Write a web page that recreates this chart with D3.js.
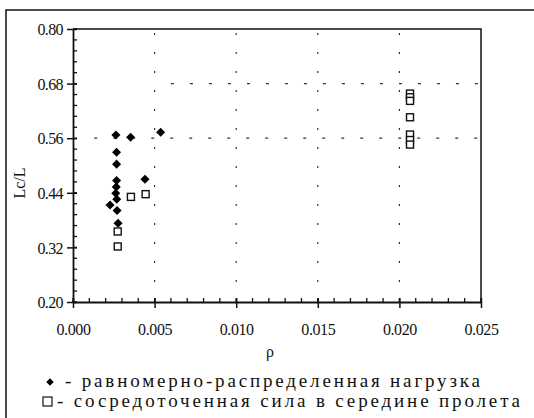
<!DOCTYPE html>
<html>
<head>
<meta charset="utf-8">
<script src="https://cdn.jsdelivr.net/npm/d3@7"></script>
<style>
  body { margin: 0; background: #fff; }
  svg { display: block; }
</style>
</head>
<body>
<svg id="chart" width="534" height="418"></svg>
<script>
// uniform load (filled diamonds)
var diamondX = [0.00263, 0.00353, 0.00537, 0.00267, 0.00267, 0.00441, 0.00267, 0.00265, 0.00262, 0.00268, 0.00227, 0.00270, 0.00276];
var diamondY = [0.567, 0.562, 0.573, 0.529, 0.503, 0.470, 0.467, 0.453, 0.439, 0.426, 0.413, 0.401, 0.373];

// point load at midspan (open squares)
var squareX = [0.00355, 0.00445, 0.00274, 0.00274, 0.02065, 0.02065, 0.02065, 0.02065, 0.02065, 0.02065, 0.02065];
var squareY = [0.431, 0.437, 0.355, 0.322, 0.658, 0.650, 0.642, 0.606, 0.568, 0.556, 0.546];

var xTicks = [0.000, 0.005, 0.010, 0.015, 0.020, 0.025];
var yTicks = [0.20, 0.32, 0.44, 0.56, 0.68, 0.80];
var hGrid = [0.56, 0.68];
var legendLabels = ["- равномерно-распределенная нагрузка", "- сосредоточенная сила в середине пролета"];

var serif = "'Liberation Serif', 'Times New Roman', serif";

var svg = d3.select("#chart");

// outer frame
svg.append("rect")
   .attr("x", 6).attr("y", 10)
   .attr("width", 560).attr("height", 430)
   .attr("fill", "none").attr("stroke", "#111").attr("stroke-width", 1.5);

var plotLeft = 73, plotRight = 481, plotTop = 29, plotBottom = 302;

var x = d3.scaleLinear().domain([0, 0.025]).range([plotLeft, plotRight]);
var y = d3.scaleLinear().domain([0.20, 0.80]).range([plotBottom, plotTop]);

// grid (dotted, sparse like the scan)
svg.append("g").selectAll("line")
   .data(xTicks.slice(1, 5))
   .join("line")
   .attr("x1", d => x(d)).attr("x2", d => x(d))
   .attr("y1", plotTop + 4).attr("y2", plotBottom)
   .attr("stroke", "#333").attr("stroke-width", 1.2)
   .attr("stroke-dasharray", "2,17");

svg.append("g").selectAll("line")
   .data(hGrid)
   .join("line")
   .attr("x1", d => d == 0.68 ? x(0.006) : x(0.0013)).attr("x2", plotRight)
   .attr("y1", d => y(d)).attr("y2", d => y(d))
   .attr("stroke", "#333").attr("stroke-width", 1.2)
   .attr("stroke-dasharray", "3,16");

// plot frame (top and right)
svg.append("path")
   .attr("d", "M" + plotLeft + "," + plotTop + "H" + plotRight + "V" + plotBottom)
   .attr("fill", "none").attr("stroke", "#111").attr("stroke-width", 1.5);

// minor ticks (inside)
var xMinor = d3.range(0, 0.0251, 0.001);
var yMinor = d3.range(0.20, 0.801, 0.024);

svg.append("g").selectAll("line")
   .data(xMinor)
   .join("line")
   .attr("x1", d => x(d)).attr("x2", d => x(d))
   .attr("y1", plotBottom).attr("y2", plotBottom - 4)
   .attr("stroke", "#111").attr("stroke-width", 1.3);

svg.append("g").selectAll("line")
   .data(yMinor)
   .join("line")
   .attr("x1", plotLeft).attr("x2", plotLeft + 4)
   .attr("y1", d => y(d)).attr("y2", d => y(d))
   .attr("stroke", "#111").attr("stroke-width", 1.3);

// axes with crossing major ticks
var xAxis = svg.append("g")
   .attr("transform", "translate(0," + plotBottom + ")")
   .call(d3.axisBottom(x).tickValues(xTicks).tickSizeInner(6).tickSizeOuter(0).tickFormat(d3.format(".3f")));
xAxis.attr("font-family", serif).attr("font-size", 16);
xAxis.select(".domain").attr("stroke", "#111").attr("stroke-width", 1.8);
xAxis.selectAll(".tick line").attr("y1", -4).attr("y2", 6).attr("stroke", "#111").attr("stroke-width", 1.5);
xAxis.selectAll(".tick text")
   .attr("y", 0).attr("dy", "33px")
   .attr("letter-spacing", "-0.4")
   .attr("fill", "#111");

var yAxis = svg.append("g")
   .attr("transform", "translate(" + plotLeft + ",0)")
   .call(d3.axisLeft(y).tickValues(yTicks).tickSizeInner(6).tickSizeOuter(0).tickFormat(d3.format(".2f")));
yAxis.attr("font-family", serif).attr("font-size", 16);
yAxis.select(".domain").attr("stroke", "#111").attr("stroke-width", 1.8);
yAxis.selectAll(".tick line").attr("x1", -6).attr("x2", 4).attr("stroke", "#111").attr("stroke-width", 1.5);
yAxis.selectAll(".tick text")
   .attr("x", -10).attr("dy", "0.36em")
   .attr("letter-spacing", "-0.6")
   .attr("fill", "#111");

// axis titles
svg.append("text")
   .attr("x", 270).attr("y", 357)
   .attr("text-anchor", "middle")
   .attr("font-family", serif).attr("font-size", 16)
   .attr("fill", "#111")
   .text("ρ");

svg.append("text")
   .attr("transform", "translate(25,183) rotate(-90)")
   .attr("text-anchor", "middle")
   .attr("font-family", serif).attr("font-size", 16)
   .attr("fill", "#111")
   .text("Lc/L");

// points
var diamondData = diamondX.map((v, i) => [v, diamondY[i]]);
var squareData = squareX.map((v, i) => [v, squareY[i]]);

svg.append("g").selectAll("path")
   .data(diamondData)
   .join("path")
   .attr("transform", d => "translate(" + x(d[0]) + "," + y(d[1]) + ")")
   .attr("d", d3.symbol().type(d3.symbolDiamond2).size(52))
   .attr("fill", "#000");

svg.append("g").selectAll("rect")
   .data(squareData)
   .join("rect")
   .attr("x", d => x(d[0]) - 3.5).attr("y", d => y(d[1]) - 3.5)
   .attr("width", 7).attr("height", 7)
   .attr("fill", "#fff").attr("stroke", "#111").attr("stroke-width", 1.4);

// legend
svg.append("path")
   .attr("transform", "translate(50,382)")
   .attr("d", d3.symbol().type(d3.symbolDiamond2).size(36))
   .attr("fill", "#000");
svg.append("rect")
   .attr("x", 43).attr("y", 397).attr("width", 9).attr("height", 9)
   .attr("fill", "none").attr("stroke", "#111").attr("stroke-width", 1.2);

svg.append("text")
   .attr("x", 65).attr("y", 387)
   .attr("textLength", 415).attr("lengthAdjust", "spacing")
   .attr("font-family", serif).attr("font-size", 19)
   .attr("fill", "#111")
   .text(legendLabels[0]);
svg.append("text")
   .attr("x", 57).attr("y", 407)
   .attr("textLength", 463).attr("lengthAdjust", "spacing")
   .attr("font-family", serif).attr("font-size", 19)
   .attr("fill", "#111")
   .text(legendLabels[1]);
</script>
</body>
</html>
